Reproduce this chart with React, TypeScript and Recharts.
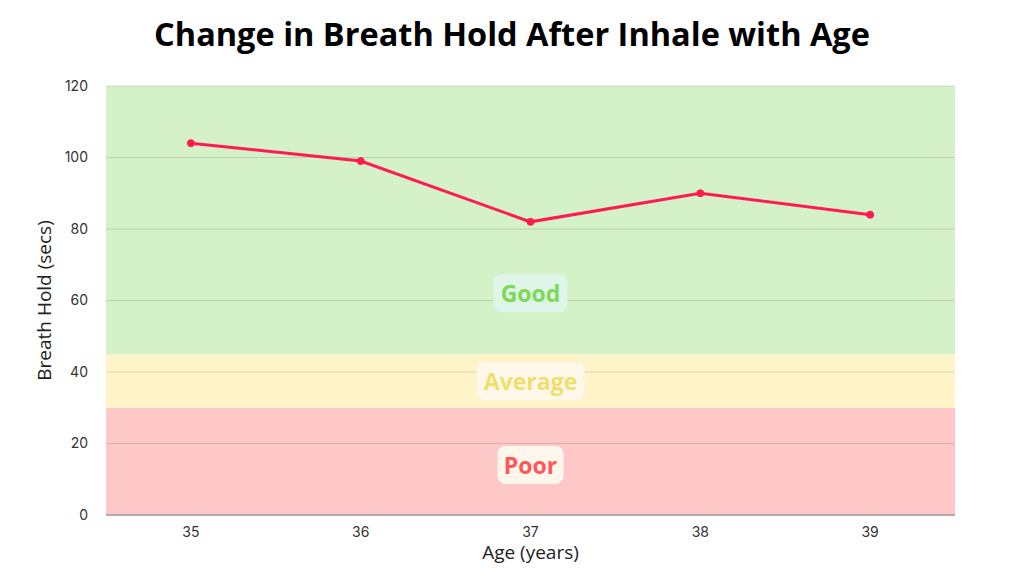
import React from 'react';
import { ComposedChart, Line, XAxis, YAxis, ReferenceArea, ReferenceLine, ReferenceDot, Label } from 'recharts';

const ages = ['35', '36', '37', '38', '39'];
const breathHold = [104, 99, 82, 90, 84];
const yTicks = [0, 20, 40, 60, 80, 100, 120];
const bands = [
  { name: 'Poor', from: 0, to: 30, fill: '#ffc8c8', labelY: 14, labelX: '37', text: '#ff5757', bg: '#fff6ec', w: 66 },
  { name: 'Average', from: 30, to: 45, fill: '#fff4c8', labelY: 37.5, labelX: '37', text: '#efdf6c', bg: '#fff7ea', w: 108 },
  { name: 'Good', from: 45, to: 120, fill: '#d4f1c8', labelY: 62, labelX: '37', text: '#7ed957', bg: '#def5e7', w: 74 },
];

const data = ages.map((a, i) => ({ age: a, value: breathHold[i] }));

const BandLabel = (props: any) => {
  const { viewBox, band } = props;
  const cx = viewBox.x + (viewBox.width || 0) / 2;
  const cy = viewBox.y + (viewBox.height || 0) / 2;
  const h = 38;
  return (
    <g>
      <rect x={cx - band.w / 2} y={cy - h / 2} width={band.w} height={h} rx={8} ry={8} fill={band.bg} />
      <text x={cx} y={cy} textAnchor="middle" dominantBaseline="central" fill={band.text}
        style={{ fontFamily: 'Open Sans, sans-serif', fontWeight: 700, fontSize: 23 }}>{band.name}</text>
    </g>
  );
};

export default function App() {
  return (
    <div style={{ position: 'absolute', left: 0, top: 0, width: 1024, height: 576, background: '#fff' }}>
      <div style={{ position: 'absolute', left: 0, top: 11, width: 1024, textAlign: 'center', fontFamily: 'Open Sans, sans-serif', fontWeight: 700, fontSize: 32.5, color: '#000' }}>
        Change in Breath Hold After Inhale with Age
      </div>
      <ComposedChart width={1024} height={576} data={data} margin={{ top: 86, right: 69, bottom: 31, left: 46 }}>
        <XAxis dataKey="age" height={30} scale="band" tickLine={false} axisLine={{ stroke: '#999', strokeWidth: 1 }}
          tick={{ fill: '#333', fontSize: 14, fontFamily: 'Inter, sans-serif' }} tickMargin={6}>
          <Label value="Age (years)" position="insideBottom" offset={-14} style={{ fill: '#222', fontSize: 19, fontFamily: 'Open Sans, sans-serif' }} />
        </XAxis>
        <YAxis width={60} domain={[0, 120]} ticks={yTicks} tickLine={false} axisLine={false}
          tick={{ fill: '#333', fontSize: 14, fontFamily: 'Inter, sans-serif' }} tickMargin={12}>
          <Label value="Breath Hold (secs)" angle={-90} position="insideLeft" offset={-2} style={{ fill: '#222', fontSize: 19, fontFamily: 'Open Sans, sans-serif', textAnchor: 'middle' }} />
        </YAxis>
        {bands.map((b) => (
          <ReferenceArea key={b.name} y1={b.from} y2={b.to} fill={b.fill} fillOpacity={1} stroke="none" ifOverflow="visible" />
        ))}
        {yTicks.filter((t) => t > 0).map((t) => (
          <ReferenceLine key={t} y={t} stroke="rgba(0,0,0,0.13)" strokeWidth={1} />
        ))}
        <ReferenceLine y={0} stroke="#999" strokeWidth={1} />
        {bands.map((b) => (
          <ReferenceDot key={'l' + b.name} x={b.labelX} y={b.labelY} r={0} stroke="none" fill="none"
            label={(p: any) => <BandLabel {...p} band={b} />} />
        ))}
        <Line type="linear" dataKey="value" stroke="#ff1a4f" strokeWidth={3}
          dot={{ r: 3.5, fill: '#ff1a4f', stroke: '#ff1a4f', strokeWidth: 1 }} isAnimationActive={false} />
      </ComposedChart>
    </div>
  );
}
